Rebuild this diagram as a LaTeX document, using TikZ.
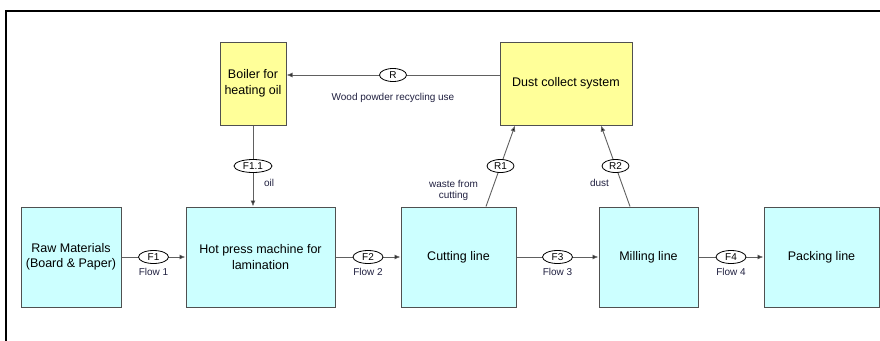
\documentclass[tikz,border=0pt]{standalone}
\usepackage{fontspec}
\setmainfont{Liberation Sans}
\usetikzlibrary{shapes.geometric,arrows.meta,calc}
\definecolor{cyanbox}{HTML}{CCFFFF}
\definecolor{yellowbox}{HTML}{FFFF99}
\definecolor{boxline}{HTML}{505050}
\definecolor{conline}{HTML}{606060}
\definecolor{labtext}{HTML}{202040}
\tikzset{
  procbox/.style={draw=boxline, line width=1pt, fill=cyanbox, align=center, font=\fontsize{12.5}{15.5}\selectfont, inner sep=2pt},
  utilbox/.style={draw=boxline, line width=1pt, fill=yellowbox, align=center, font=\fontsize{12.5}{15.5}\selectfont, inner sep=2pt},
  conn/.style={draw=conline, line width=0.9pt, -{Latex[length=6pt,width=5pt,fill=black]}},
  ell/.style={ellipse, draw=black, line width=0.8pt, fill=white, inner sep=0.5pt, minimum height=13pt, font=\fontsize{10}{12}\selectfont},
  lab/.style={font=\fontsize{10}{12}\selectfont, text=labtext, align=center, inner sep=1pt},
}
\begin{document}
\begin{tikzpicture}[x=1pt,y=-1pt]
\useasboundingbox (0,0) rectangle (880,340);
\draw[line width=2pt] (6,341) -- (6,11) -- (881,11);
% nodes
\node[utilbox, minimum width=66pt, minimum height=83pt] (boiler) at (253,83.5) {Boiler for\\heating oil};
\node[utilbox, minimum width=132pt, minimum height=83pt] (dust) at (566,83.5) {Dust collect system};
\node[procbox, minimum width=100pt, minimum height=100pt] (raw) at (71,257) {Raw Materials\\(Board \& Paper)};
\node[procbox, minimum width=149pt, minimum height=100pt] (hot) at (260.5,257) {Hot press machine for\\lamination};
\node[procbox, minimum width=115pt, minimum height=100pt] (cut) at (458.5,257) {Cutting line};
\node[procbox, minimum width=99pt, minimum height=100pt] (mill) at (648.5,257) {Milling line};
\node[procbox, minimum width=115pt, minimum height=100pt] (pack) at (821.5,257) {Packing line};
% connectors
\path[conn] (dust.west |- 0,75) -- node[ell, minimum width=27pt, pos=0.5, label={[lab, label distance=10pt]below:Wood powder recycling use}] (er) {R} (boiler.east |- 0,75);
\path[conn] (boiler.south) -- node[ell, minimum width=38pt, pos=0.5] (ef11) {F1.1} (boiler.south |- hot.north);
\node[lab] (oil) at ([shift={(16,17)}]ef11.center) {oil};
\path[conn] ([xshift=27.5pt]cut.north) -- node[ell, minimum width=27pt, pos=0.5] (er1) {R1} ([xshift=-51pt]dust.south);
\node[lab, font=\fontsize{10}{11}\selectfont] (waste) at ([shift={(-47,24)}]er1.center) {waste from\\cutting};
\path[conn] ([xshift=-18.5pt]mill.north) -- node[ell, minimum width=27pt, pos=0.5] (er2) {R2} ([xshift=35pt]dust.south);
\node[lab] (dustlab) at ([shift={(-16,17)}]er2.center) {dust};
\path[conn] (raw.east) -- node[ell, minimum width=30pt, pos=0.5, label={[lab, label distance=3pt]below:Flow 1}] (ef1) {F1} (hot.west);
\path[conn] (hot.east) -- node[ell, minimum width=30pt, pos=0.5, label={[lab, label distance=3pt]below:Flow 2}] (ef2) {F2} (cut.west);
\path[conn] (cut.east) -- node[ell, minimum width=30pt, pos=0.5, label={[lab, label distance=3pt]below:Flow 3}] (ef3) {F3} (mill.west);
\path[conn] (mill.east) -- node[ell, minimum width=30pt, pos=0.5, label={[lab, label distance=3pt]below:Flow 4}] (ef4) {F4} (pack.west);
\end{tikzpicture}
\end{document}
